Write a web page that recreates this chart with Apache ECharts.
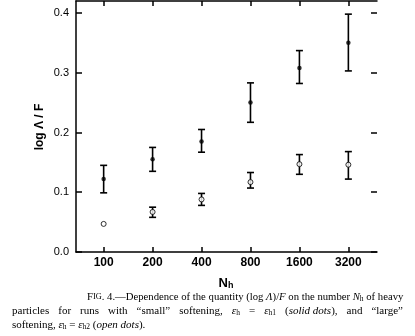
<!DOCTYPE html>
<html><head><meta charset="utf-8">
<script src="https://cdn.jsdelivr.net/npm/echarts@6/dist/echarts.min.js"></script>
<style>html,body{margin:0;padding:0;background:#fff}#c{width:415px;height:336px}</style>
</head><body><div id="c"></div>
<script>
const categories = ['100','200','400','800','1600','3200'];
const yTicks = [0, 0.1, 0.2, 0.3, 0.4];
const solidMean = [0.122, 0.155, 0.185, 0.250, 0.308, 0.350];
const solidLow  = [0.099, 0.135, 0.167, 0.217, 0.282, 0.303];
const solidHigh = [0.145, 0.175, 0.205, 0.283, 0.337, 0.398];
const openMean  = [0.047, 0.067, 0.088, 0.117, 0.147, 0.146];
const openLow   = [null, 0.058, 0.078, 0.107, 0.130, 0.122];
const openHigh  = [null, 0.075, 0.098, 0.133, 0.163, 0.168];

const xIdx = categories.map((c, i) => i);
const chart = echarts.init(document.getElementById('c'), null, {renderer: 'canvas'});

function errData(low, high) {
  return xIdx.filter(i => low[i] != null).map(i => [i, low[i], high[i]]);
}
function errRender(params, api) {
  const x = api.value(0);
  const lo = api.coord([x, api.value(1)]);
  const hi = api.coord([x, api.value(2)]);
  const hw = 3.5;
  const st = {stroke: '#000', lineWidth: 1.6};
  return {type: 'group', children: [
    {type: 'line', shape: {x1: lo[0], y1: lo[1], x2: hi[0], y2: hi[1]}, style: st},
    {type: 'line', shape: {x1: lo[0]-hw, y1: lo[1], x2: lo[0]+hw, y2: lo[1]}, style: st},
    {type: 'line', shape: {x1: hi[0]-hw, y1: hi[1], x2: hi[0]+hw, y2: hi[1]}, style: st}
  ]};
}
const axisFont = {fontFamily: 'Liberation Sans', color: '#000'};
const xMin = -0.565, xMax = 5.585;
const serif = 'Liberation Serif';
const line2 = 'particles for runs with “small” softening, {i|ε}{sub|h} = {i|ε}{sub|h1} ({i|solid dots}), and “large”'
  .replace(/ (?![^{]*\})/g, '{sp| }');
const option = {
  animation: false,
  grid: {left: 76, right: 38, top: 1, bottom: 84},
  xAxis: [{
    type: 'value', min: xMin, max: xMax, position: 'bottom',
    axisLine: {show: true, onZero: false, lineStyle: {color: '#000', width: 1.5}},
    axisTick: {show: true, inside: true, length: 5, customValues: xIdx, lineStyle: {color: '#000', width: 1.5}},
    axisLabel: {show: true, customValues: xIdx, formatter: v => categories[Math.round(v)], margin: 5,
      fontSize: 12, fontWeight: 'bold', ...axisFont},
    splitLine: {show: false}
  }, {
    type: 'value', min: xMin, max: xMax, position: 'top',
    axisLine: {show: true, onZero: false, lineStyle: {color: '#000', width: 1.5}},
    axisTick: {show: true, inside: true, length: 5, customValues: xIdx, lineStyle: {color: '#000', width: 1.5}},
    axisLabel: {show: false}, splitLine: {show: false}
  }],
  yAxis: [{
    type: 'value', min: 0, max: 0.42, position: 'left',
    axisLine: {show: true, onZero: false, lineStyle: {color: '#000', width: 1.5}},
    axisTick: {show: true, inside: true, length: 6, customValues: yTicks, lineStyle: {color: '#000', width: 1.5}},
    axisLabel: {show: true, customValues: yTicks, formatter: v => v.toFixed(1), margin: 7,
      fontSize: 11, ...axisFont},
    splitLine: {show: false}
  }, {
    type: 'value', min: 0, max: 0.42, position: 'right',
    axisLine: {show: false, onZero: false},
    axisTick: {show: true, inside: true, length: 6, customValues: yTicks, lineStyle: {color: '#000', width: 1.5}},
    axisLabel: {show: false}, splitLine: {show: false}
  }],
  series: [
    {type: 'custom', renderItem: errRender, data: errData(solidLow, solidHigh), z: 2},
    {type: 'custom', renderItem: errRender, data: errData(openLow, openHigh), z: 2},
    {type: 'scatter', data: xIdx.map(i => [i, solidMean[i]]), symbol: 'circle', symbolSize: 4.5,
      itemStyle: {color: '#000'}, z: 5},
    {type: 'scatter', data: xIdx.map(i => [i, openMean[i]]), symbol: 'circle', symbolSize: 5,
      itemStyle: {color: '#fff', borderColor: '#000', borderWidth: 1}, z: 5}
  ],
  graphic: [
    {type: 'text', x: 40, y: 127, rotation: Math.PI / 2, style: {
      text: 'log Λ / F', align: 'center', verticalAlign: 'middle',
      fontFamily: 'Liberation Sans', fontWeight: 'bold', fontSize: 12, fill: '#000'}},
    {type: 'text', x: 226, y: 283, style: {
      text: '{n|N}{s|h}', align: 'center', verticalAlign: 'middle',
      rich: {n: {fontFamily: 'Liberation Sans', fontWeight: 'bold', fontSize: 13, fill: '#000'},
             s: {fontFamily: 'Liberation Sans', fontWeight: 'bold', fontSize: 9, fill: '#000', padding: [6, 0, 0, 0]}}}},
    {type: 'text', x: 87, y: 297, style: {
      text: 'F{sc|IG}. 4.—Dependence of the quantity (log {i|Λ})/{i|F} on the number {i|N}{sub|h} of heavy',
      verticalAlign: 'middle', fontFamily: serif, fontSize: 10.7, fill: '#000',
      rich: {sc: {fontFamily: serif, fontSize: 8.3}, i: {fontFamily: serif, fontStyle: 'italic', fontSize: 10.7},
             sub: {fontFamily: serif, fontSize: 7.5, padding: [5, 0, 0, 0]}}}},
    {type: 'text', x: 12, y: 311, style: {
      text: line2,
      verticalAlign: 'middle', fontFamily: serif, fontSize: 11, fill: '#000',
      rich: {i: {fontFamily: serif, fontStyle: 'italic', fontSize: 11},
             sp: {fontFamily: serif, fontSize: 11, width: 9},
             sub: {fontFamily: serif, fontSize: 7.5, padding: [5, 0, 0, 0]}}}},
    {type: 'text', x: 12, y: 325, style: {
      text: 'softening, {i|ε}{sub|h} = {i|ε}{sub|h2} ({i|open dots}).',
      verticalAlign: 'middle', fontFamily: serif, fontSize: 11, fill: '#000',
      rich: {i: {fontFamily: serif, fontStyle: 'italic', fontSize: 11},
             sub: {fontFamily: serif, fontSize: 7.5, padding: [5, 0, 0, 0]}}}}
  ]
};
chart.setOption(option);
</script></body></html>
